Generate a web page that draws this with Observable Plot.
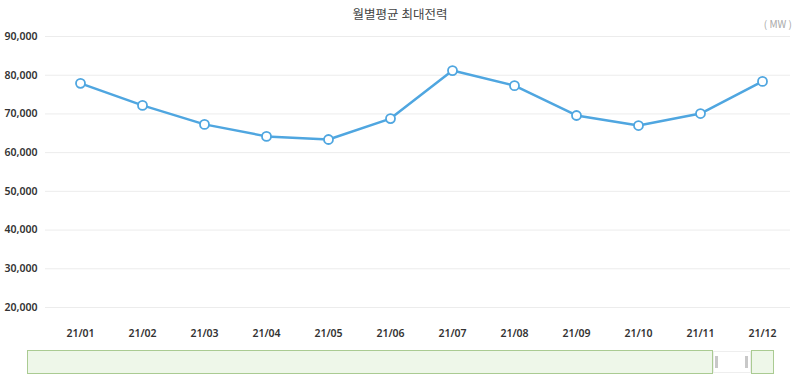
<!DOCTYPE html>
<html><head><meta charset="utf-8">
<script src="https://cdn.jsdelivr.net/npm/d3@7"></script>
<script src="https://cdn.jsdelivr.net/npm/@observablehq/plot@0.6"></script>
<style>
body{margin:0;background:#fff;font-family:"Noto Sans CJK KR","Noto Sans",sans-serif;}
#wrap{position:relative;width:800px;height:390px;overflow:hidden;}
#title{position:absolute;top:4px;left:0;width:800px;text-align:center;font-size:12.5px;color:#444;}
#unit{position:absolute;top:16px;right:8px;font-size:10px;color:#aaa;}
#chart{position:absolute;top:0;left:0;}
.sl{position:absolute;box-sizing:border-box;}
</style></head><body>
<div id="wrap">
<div id="chart"></div>
<div id="title">월별평균 최대전력</div>
<div id="unit">( MW )</div>
<div class="sl" style="left:27px;top:350px;width:686px;height:24px;background:#eef7e9;border:1px solid #aacb92;"></div>
<div class="sl" style="left:713px;top:351px;width:38px;height:22px;background:#fff;border:1px solid #eee;"></div>
<div class="sl" style="left:715px;top:356px;width:3px;height:12px;background:#c8c8c8;"></div>
<div class="sl" style="left:745px;top:356px;width:3px;height:12px;background:#c8c8c8;"></div>
<div class="sl" style="left:751px;top:350px;width:23px;height:24px;background:#eef7e9;border:1px solid #aacb92;"></div>
</div>
<script>
const months = ["21/01","21/02","21/03","21/04","21/05","21/06","21/07","21/08","21/09","21/10","21/11","21/12"];
const values = [77900, 72200, 67300, 64200, 63400, 68800, 81200, 77300, 69600, 67000, 70100, 78400];
const yTicks = [20000,30000,40000,50000,60000,70000,80000,90000];
const data = months.map((m,i)=>({m, v: values[i]}));
const fmt = d3.format(",");
const chart = Plot.plot({
  width: 800, height: 390,
  marginTop: 36, marginBottom: 83, marginLeft: 45, marginRight: 10,
  style: {fontFamily: '"Noto Sans", sans-serif', background: "transparent"},
  x: {type: "point", domain: months, padding: 0, insetLeft: 31, insetRight: 25, label: null},
  y: {domain: [20000, 90000], label: null},
  marks: [
    Plot.ruleY(yTicks, {stroke: "#ececec", strokeWidth: 1}),
    Plot.ruleX([months[0]], {x: () => null, stroke: "#ececec"}),
    Plot.axisY(yTicks, {tickSize: 0, tickPadding: 8, tickFormat: fmt, fontSize: 10.5, fontWeight: 600, fill: "#333", label: null}),
    Plot.axisX({tickSize: 0, tickPadding: 22, fontSize: 10.5, fontWeight: 600, fill: "#333", label: null}),
    Plot.line(data, {x: "m", y: "v", stroke: "#4fa6e0", strokeWidth: 2.5}),
    Plot.dot(data, {x: "m", y: "v", r: 4.5, fill: "white", stroke: "#4fa6e0", strokeWidth: 1.8})
  ]
});
document.getElementById("chart").appendChild(chart);
</script>
</body></html>
